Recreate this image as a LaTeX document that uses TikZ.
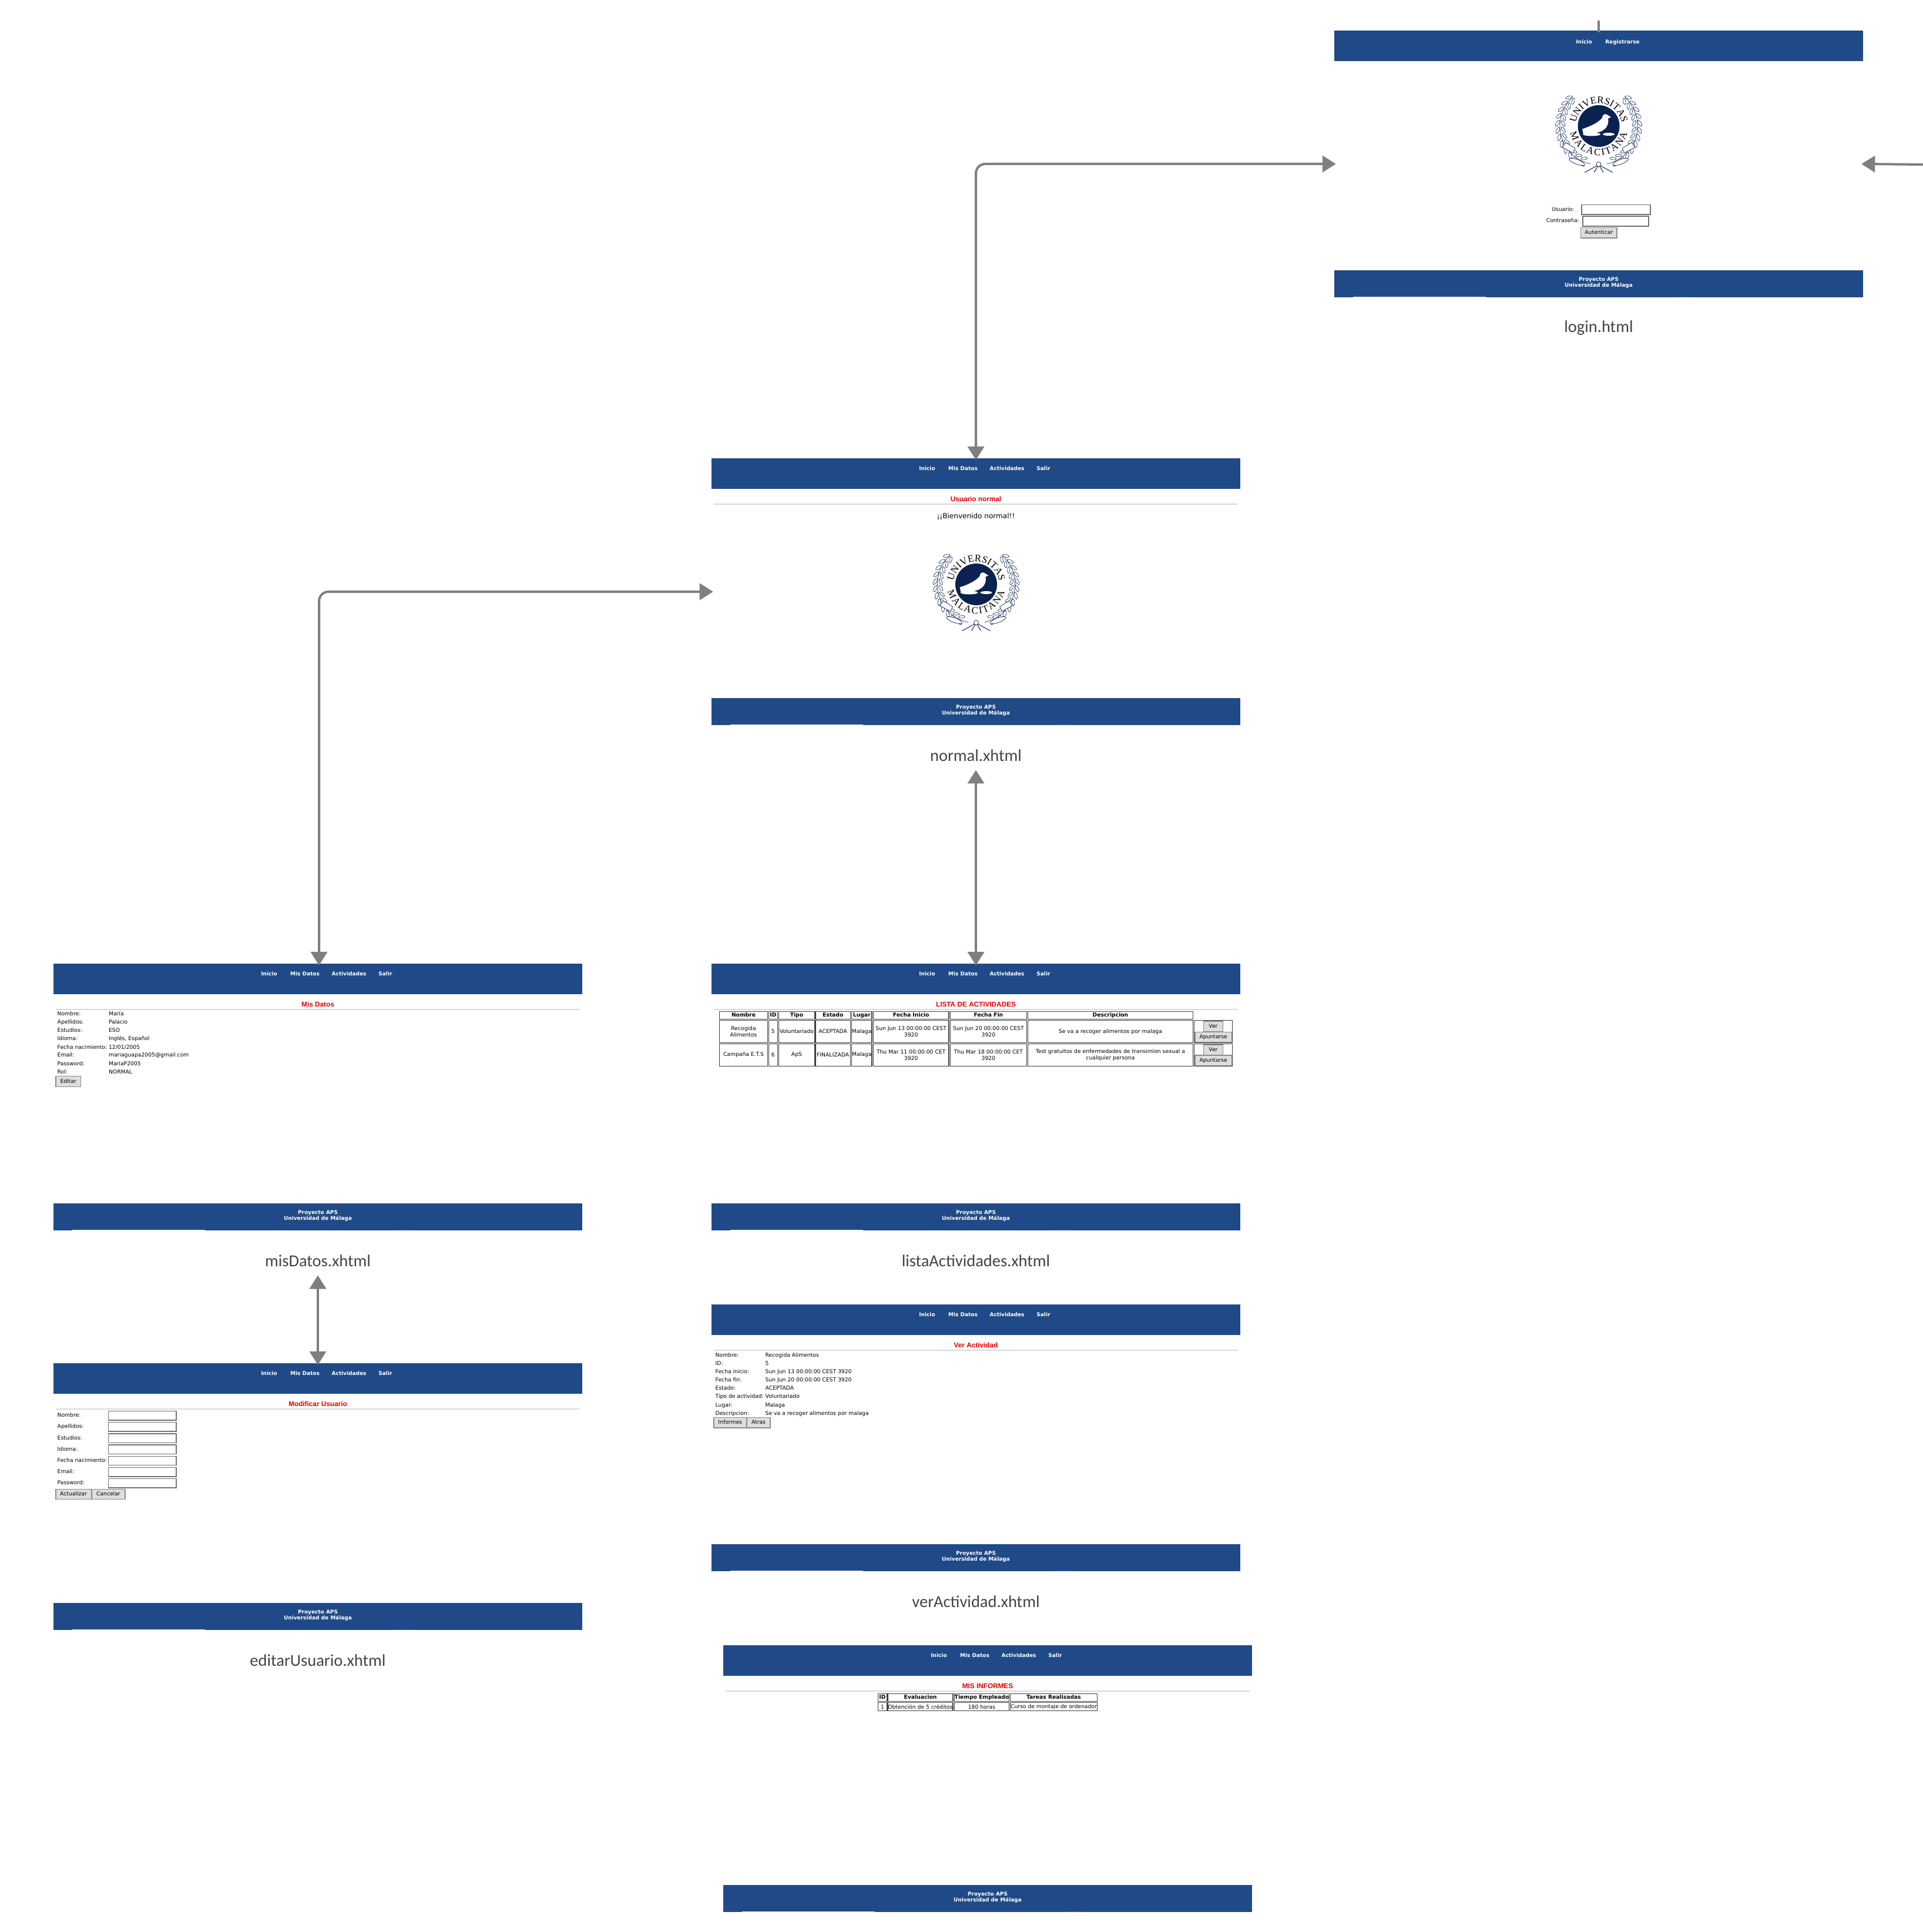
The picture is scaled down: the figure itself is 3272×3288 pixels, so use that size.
\documentclass[tikz,border=0pt]{standalone}
\usepackage{fontspec}
\setmainfont{DejaVu Sans}
\newfontfamily\titlefamily{Liberation Sans}
\newfontfamily\namefamily{Carlito}
\newfontfamily\sealfamily{Liberation Serif}
\usepackage{xcolor}
\usepackage{tikz}
\usetikzlibrary{arrows.meta,positioning,calc,decorations.text}
\definecolor{barblue}{HTML}{204A87}
\definecolor{barlight}{HTML}{2A5CA5}
\definecolor{linkgray}{HTML}{7F7F7F}
\definecolor{sealblue}{HTML}{0B2250}
\definecolor{titlered}{HTML}{E00000}
\definecolor{namegray}{HTML}{444444}
\newcommand{\webfont}{\fontsize{2.62}{3.1}\selectfont}
\newcommand{\barfont}{\fontsize{2.55}{2.85}\selectfont\bfseries}
\newcommand{\redfont}{\titlefamily\fontsize{3.35}{3.9}\selectfont\bfseries}
\newcommand{\namefont}{\namefamily\fontsize{8.1}{9}\selectfont}
\newcommand{\sealfont}{\sealfamily\fontsize{4.8}{5.4}\selectfont}

\newcommand{\webpage}[3]{%
  \node[page] (#1page) at (#2,#3+227) {};
  \node[topbar] (#1bar) at (#2,#3+26) {};
  \node[footbar] (#1foot) at (#2,#3+431) {};
  \node[foottext] (#1credit) at (#2,#3+429.5) {Proyecto APS\\Universidad de Málaga};
  \fill[white!90!barblue] ($(#1foot.south west)+(32,0)$) rectangle +(226,-1.5);
  \fill[barlight] ($(#1foot.south west)+(582,0)$) rectangle +(32,-1.5);
}
\newcommand{\pagehead}[4]{%
  \node[navitem] (#1inicio) at (#2-83,#3+18) {Inicio};
  \node[navitem] (#1datos) at (#2-22,#3+18) {Mis Datos};
  \node[navitem] (#1activ) at (#2+53,#3+18) {Actividades};
  \node[navitem] (#1salir) at (#2+115,#3+18) {Salir};
  \node[pagetitle] (#1title) at (#2,#3+70) {#4};
  \draw[titlerule] (#2-446,#3+78) -- (#2+446,#3+78);
}
\newcommand{\cellbox}[7]{%
  \node[#2,minimum width={((#5)-(#3))*0.01cm},minimum height={((#6)-(#4))*0.01cm}] (#1) at ({((#3)+(#5))/2},{((#4)+(#6))/2}) {#7};
}

\tikzset{
  seal/.pic={
    \begin{scope}[x=0.01cm,y=0.01cm]
      \foreach \m in {1,-1} {
        \begin{scope}[xscale=\m]
          \draw[sealblue,line width=0.006cm] (132:66) arc (132:258:66);
          \foreach \a in {136,146,...,246} {
            \draw[sealblue,fill=white,line width=0.006cm,shift={(\a:70)},rotate=\a+60] (0,0) ellipse (6 and 2.4);
            \draw[sealblue,fill=white,line width=0.006cm,shift={(\a:60.5)},rotate=\a+120] (0,0) ellipse (5.5 and 2.2);
          }
          \draw[sealblue,fill=white,line width=0.007cm] (-62,-36) -- (-44,-46) -- (-40,-38) -- (-56,-28) -- cycle;
          \draw[sealblue,fill=white,line width=0.007cm,rotate=-20] (-14,-70) ellipse (14 and 4);
          \draw[sealblue,line width=0.01cm] (0,-66) -- (-24,-79);
          \draw[sealblue,line width=0.01cm] (0,-66) -- (-8,-79);
        \end{scope}
      }
      \draw[sealblue,fill=white,line width=0.007cm] (0,-65) circle (4);
      \fill[sealblue] (0,0) circle (35.5);
      \fill[white] (-28,-5) .. controls (-15,-1) and (0,6) .. (6,14) .. controls (6,19) and (10,21) .. (13,20) -- (21,15) -- (16,13) .. controls (18,2) and (12,-8) .. (-2,-11) -- (-26,-14) -- cycle;
      \fill[white] (-12,-14) ellipse (15 and 3);
      \fill[white] (17,-14) ellipse (10 and 2.5);
      \path[text=sealblue,decorate,decoration={text along path,text align={fit to path},text={|\sealfont|UNIVERSITAS}}] (172:39) arc (172:8:39);
      \path[text=sealblue,decorate,decoration={text along path,text align={fit to path},text={|\sealfont|MALACITANA}}] (194:50) arc (194:346:50);
    \end{scope}
  }
}

\begin{document}
\begin{tikzpicture}[
  x=0.01cm, y=-0.01cm,
  page/.style={minimum width=9cm, minimum height=4.54cm, inner sep=0pt, outer sep=0pt},
  topbar/.style={fill=barblue, minimum width=9cm, minimum height=0.52cm, inner sep=0pt, outer sep=0pt},
  footbar/.style={fill=barblue, minimum width=9cm, minimum height=0.46cm, inner sep=0pt, outer sep=0pt},
  foottext/.style={text=white, font=\barfont, align=center, inner sep=0pt},
  navitem/.style={text=white, font=\barfont, inner sep=0pt, text height=0.065cm, text depth=0.02cm},
  pagetitle/.style={text=titlered, font=\redfont, inner sep=0pt, text height=0.08cm, text depth=0.02cm},
  titlerule/.style={draw=black!15, line width=0.016cm},
  pagename/.style={text=namegray, font=\namefont, minimum height=0.54cm, inner sep=0pt},
  rowtext/.style={anchor=west, font=\webfont, inner sep=0pt, text height=0.07cm, text depth=0.02cm},
  formkey/.style={anchor=east, font=\webfont, inner sep=0pt, text height=0.07cm, text depth=0.02cm},
  field/.style={draw=black!55, fill=white, line width=0.012cm, inner sep=0pt, outer sep=0pt},
  webbutton/.style={draw=black!45, fill=black!13, font=\webfont, line width=0.014cm, inner sep=0pt, outer sep=0pt, text height=0.07cm, text depth=0.02cm},
  gridbox/.style={draw=black!75, font=\webfont, align=center, line width=0.012cm, inner sep=0pt, outer sep=0pt},
  gridhead/.style={gridbox, font=\webfont\bfseries, text height=0.07cm, text depth=0.02cm},
  link/.style={draw=linkgray, line width=0.04cm, >={Triangle[length=0.23cm,width=0.28cm]}, shorten >=-0.03cm, shorten <=-0.03cm}
]
  \useasboundingbox (0,0) rectangle (3272,3288);

  \webpage{login}{2721}{52}
  \node[navitem] (logininicio) at (2696,72) {Inicio};
  \node[navitem] (loginregistro) at (2761.5,72) {Registrarse};
  \pic (loginseal) at (2721,214.5) {seal};
  \node[formkey] (loginuser) at (2680,357) {Usuario:};
  \node[formkey] (loginpass) at (2688.5,376) {Contraseña:};
  \cellbox{loginuserbox}{field}{2692}{348.5}{2809}{365}{}
  \cellbox{loginpassbox}{field}{2694}{368}{2806}{385}{}
  \cellbox{loginbutton}{webbutton}{2690.5}{387.5}{2752}{405}{Autenticar}
  \node[pagename, below=0.24cm of loginfoot] (loginname) {login.html};

  \webpage{normal}{1661}{780}
  \pagehead{normal}{1661}{780}{Usuario normal}
  \node[font=\fontsize{3.43}{4}\selectfont, inner sep=0pt] (normalhello) at (1661,879) {¡¡Bienvenido normal!!};
  \pic (normalseal) at (1661.5,994.5) {seal};
  \node[pagename, below=0.24cm of normalfoot] (normalname) {normal.xhtml};

  \webpage{lista}{1661}{1640}
  \pagehead{lista}{1661}{1640}{LISTA DE ACTIVIDADES}
  \cellbox{hnombre}{gridhead}{1224.3}{1721.3}{1306.7}{1734.7}{Nombre}
  \cellbox{hid}{gridhead}{1308.5}{1721.3}{1323.3}{1734.7}{ID}
  \cellbox{htipo}{gridhead}{1325.7}{1721.3}{1386.2}{1734.7}{Tipo}
  \cellbox{hestado}{gridhead}{1388}{1721.3}{1447.3}{1734.7}{Estado}
  \cellbox{hlugar}{gridhead}{1449.6}{1721.3}{1484}{1734.7}{Lugar}
  \cellbox{hinicio}{gridhead}{1486.4}{1721.3}{1615}{1734.7}{Fecha Inicio}
  \cellbox{hfin}{gridhead}{1617.5}{1721.3}{1747.3}{1734.7}{Fecha Fin}
  \cellbox{hdesc}{gridhead}{1749.7}{1721.3}{2030.2}{1734.7}{Descripcion}
  \cellbox{anombre}{gridbox}{1224.3}{1736.3}{1306.7}{1774.7}{Recogida\\Alimentos}
  \cellbox{aid}{gridbox}{1308.5}{1736.3}{1323.3}{1774.7}{5}
  \cellbox{atipo}{gridbox}{1325.7}{1736.3}{1386.2}{1774.7}{Voluntariado}
  \cellbox{aestado}{gridbox}{1388}{1736.3}{1447.3}{1774.7}{ACEPTADA}
  \cellbox{alugar}{gridbox}{1449.6}{1736.3}{1484}{1774.7}{Malaga}
  \cellbox{ainicio}{gridbox}{1486.4}{1736.3}{1615}{1774.7}{Sun Jun 13 00:00:00 CEST\\3920}
  \cellbox{afin}{gridbox}{1617.5}{1736.3}{1747.3}{1774.7}{Sun Jun 20 00:00:00 CEST\\3920}
  \cellbox{adesc}{gridbox}{1749.7}{1736.3}{2030.2}{1774.7}{Se va a recoger alimentos por malaga}
  \cellbox{aacc}{gridbox}{2032.6}{1736.3}{2097.2}{1774.7}{}
  \cellbox{aver}{webbutton}{2048.6}{1738}{2081.2}{1756}{Ver}
  \cellbox{aapunta}{webbutton}{2033.8}{1756.3}{2096.6}{1773.3}{Apuntarse}
  \cellbox{bnombre}{gridbox}{1224.3}{1776.3}{1306.7}{1814.3}{Campaña E.T.S}
  \cellbox{bid}{gridbox}{1308.5}{1776.3}{1323.3}{1814.3}{6}
  \cellbox{btipo}{gridbox}{1325.7}{1776.3}{1386.2}{1814.3}{ApS}
  \cellbox{bestado}{gridbox}{1388}{1776.3}{1447.3}{1814.3}{FINALIZADA}
  \cellbox{blugar}{gridbox}{1449.6}{1776.3}{1484}{1814.3}{Malaga}
  \cellbox{binicio}{gridbox}{1486.4}{1776.3}{1615}{1814.3}{Thu Mar 11 00:00:00 CET\\3920}
  \cellbox{bfin}{gridbox}{1617.5}{1776.3}{1747.3}{1814.3}{Thu Mar 18 00:00:00 CET\\3920}
  \cellbox{bdesc}{gridbox}{1749.7}{1776.3}{2030.2}{1814.3}{Test gratuitos de enfermedades de transimion sexual a\\cualquier persona}
  \cellbox{bacc}{gridbox}{2032.6}{1776.3}{2097.2}{1814.3}{}
  \cellbox{bver}{webbutton}{2048.6}{1778}{2081.2}{1796}{Ver}
  \cellbox{bapunta}{webbutton}{2033.8}{1796}{2096.6}{1813.3}{Apuntarse}
  \node[pagename, below=0.24cm of listafoot] (listaname) {listaActividades.xhtml};

  \webpage{datos}{541}{1640}
  \pagehead{datos}{541}{1640}{Mis Datos}
  \foreach \lbl/\val/\yy [count=\i] in {Nombre:/María/1726, Apellidos:/Palacio/1740.3, Estudios:/ESO/1754.3, Idioma:/{Inglés, Español}/1768, Fecha nacimiento:/{12/01/2005}/1782.7, Email:/mariaguapa2005@gmail.com/1796.3, Password:/MariaP2005/1810.7, Rol:/NORMAL/1825} {
    \node[rowtext] (datoskey\i) at (97,\yy) {\lbl};
    \node[rowtext] (datosval\i) at (184.4,\yy) {\val};
  }
  \cellbox{datosedit}{webbutton}{94.8}{1831.7}{137.5}{1849.7}{Editar}
  \node[pagename, below=0.24cm of datosfoot] (datosname) {misDatos.xhtml};

  \webpage{editar}{541}{2320}
  \pagehead{editar}{541}{2320}{Modificar Usuario}
  \foreach \lbl/\yy [count=\i] in {Nombre:/2409.3, Apellidos:/2428.3, Estudios:/2447.7, Idioma:/2466.7, Fecha nacimiento:/2486, Email:/2505.3, Password:/2524.3} {
    \node[rowtext] (editarkey\i) at (97,\yy) {\lbl};
    \cellbox{editarbox\i}{field}{184.4}{\yy-7.7}{300}{\yy+7.7}{}
  }
  \cellbox{editarsave}{webbutton}{94.8}{2534.3}{155.3}{2551.7}{Actualizar}
  \cellbox{editarcancel}{webbutton}{156}{2534.3}{212.8}{2551.7}{Cancelar}
  \node[pagename, below=0.24cm of editarfoot] (editarname) {editarUsuario.xhtml};

  \webpage{ver}{1661}{2220}
  \pagehead{ver}{1661}{2220}{Ver Actividad}
  \foreach \lbl/\val/\yy [count=\i] in {Nombre:/Recogida Alimentos/2306.7, ID:/5/2320.7, Fecha inicio:/Sun Jun 13 00:00:00 CEST 3920/2334.7, Fecha fin:/Sun Jun 20 00:00:00 CEST 3920/2348.7, Estado:/ACEPTADA/2363.3, Tipo de actividad:/Voluntariado/2377, Lugar:/Malaga/2391.7, Descripcion:/Se va a recoger alimentos por malaga/2405.7} {
    \node[rowtext] (verkey\i) at (1217,\yy) {\lbl};
    \node[rowtext] (verval\i) at (1302,\yy) {\val};
  }
  \cellbox{verinformes}{webbutton}{1214.8}{2412.3}{1270.6}{2430}{Informes}
  \cellbox{veratras}{webbutton}{1271}{2412.3}{1311}{2430}{Atras}
  \node[pagename, below=0.24cm of verfoot] (vername) {verActividad.xhtml};

  \webpage{informes}{1681}{2800}
  \pagehead{informes}{1681}{2800}{MIS INFORMES}
  \cellbox{iid}{gridhead}{1494.6}{2882.3}{1509.4}{2895.7}{ID}
  \cellbox{ieval}{gridhead}{1511}{2882.3}{1622}{2895.7}{Evaluacion}
  \cellbox{itiempo}{gridhead}{1624.4}{2882.3}{1717.5}{2895.7}{Tiempo Empleado}
  \cellbox{itareas}{gridhead}{1719.3}{2882.3}{1867.6}{2895.7}{Tareas Realizadas}
  \cellbox{iuno}{gridbox}{1494.6}{2897.7}{1509.4}{2911.7}{1}
  \cellbox{iobt}{gridbox}{1511}{2897.7}{1622}{2911.7}{Obtención de 5 créditos}
  \cellbox{ihoras}{gridbox}{1624.4}{2897.7}{1717.5}{2911.7}{180 horas}
  \cellbox{icurso}{gridbox}{1719.3}{2897.7}{1867.6}{2911.7}{Curso de montaje de ordenador}

  \coordinate (logintop) at (2721,38);
  \coordinate (loginright) at (3272,280);
  \draw[link] (logintop) -- (loginpage.north);
  \draw[link,->] (loginright) -- (loginpage.east);
  \draw[link,<->,rounded corners=0.16cm] (loginpage.west) -| (normalpage.north);
  \draw[link,<->,rounded corners=0.16cm] (normalpage.west) -| ([xshift=0.02cm]datospage.north);
  \draw[link,<->] (normalname.south) -- (listapage.north);
  \draw[link,<->] (datosname.south) -- (editarpage.north);
\end{tikzpicture}
\end{document}
